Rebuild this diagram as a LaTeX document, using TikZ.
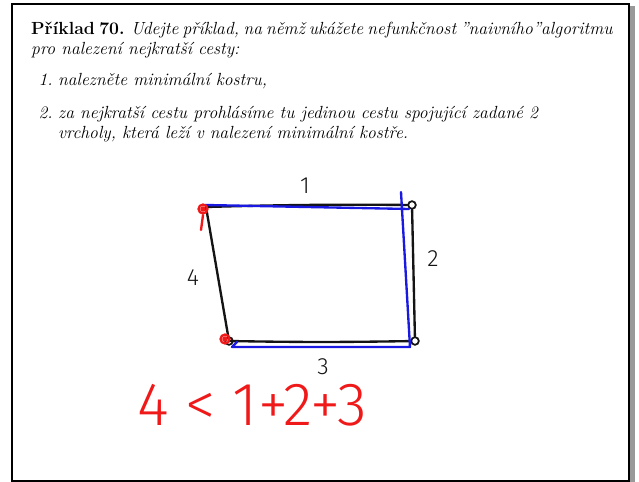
\documentclass[tikz,border=0pt]{standalone}
\usepackage{fontspec}
\newfontfamily\handfont{Fira Sans}[UprightFont={* Light}]
\usetikzlibrary{positioning}
\definecolor{penBlue}{RGB}{25,25,225}
\definecolor{penRed}{RGB}{240,25,25}
\definecolor{penBlack}{RGB}{20,20,20}
\tikzset{
  frameln/.style={line width=1.8pt, black},
  hand/.style={line width=2pt, line cap=round, line join=round},
  edgeln/.style={hand, penBlack},
  mstln/.style={hand, penBlue},
  redmark/.style={hand, penRed},
  vtx/.style={circle, draw=penBlack, line width=1.5pt, inner sep=0pt, minimum size=6.5pt},
  wlabel/.style={font=\handfont\fontsize{20}{20}\selectfont, text=penBlack, inner sep=0pt,
    text height=14pt, text depth=0pt},
  txtline/.style={anchor=base west, inner sep=0pt, font=\fontsize{15}{18}\selectfont},
  itemnum/.style={anchor=base east, inner sep=0pt, font=\fontsize{15}{18}\selectfont\itshape},
}
\begin{document}
\begin{tikzpicture}[x=0.03cm, y=-0.03cm]
  \useasboundingbox (0,0) rectangle (639,482);
  % frame with its shadow
  \fill[gray!80] (629,6) rectangle (635,482);
  \draw[frameln] (12,4) rectangle (629,481);
  % the text of the exercise
  \node[txtline] (title) at (31,35)
    {\makebox[17.31cm][s]{\textbf{Příklad 70.} \itshape Udejte příklad, na němž ukážete nefunkčnost ”naivního”algoritmu}};
  \node[txtline] (title2) at (31,55) {\itshape pro nalezení nejkratší cesty:};
  \node[itemnum] (numA) at (53,86) {1.};
  \node[txtline] (itemA) at (58,86) {\itshape nalezněte minimální kostru,};
  \node[itemnum] (numB) at (53,119) {2.};
  \node[txtline] (itemB) at (58,119) {\itshape za nejkratší cestu prohlásíme tu jedinou cestu spojující zadané 2};
  \node[txtline] (itemB2) at (58,139) {\itshape vrcholy, která leží v nalezení minimální kostře.};
  % the four vertices
  \node[vtx, draw=none] (tl) at (206,207) {};
  \node[vtx] (tr) at (412,205) {};
  \node[vtx] (br) at (415,341) {};
  \node[vtx] (bl) at (229,341) {};
  % black edges with their weights
  \draw[edgeln] (tl.center) to[bend left=1] (tr);
  \draw[edgeln] (tr) -- (br);
  \draw[edgeln] (br) to[bend left=1] (bl.center);
  \draw[edgeln] (bl) -- (tl.center);
  \node[wlabel] (wA) at (305,185) {1};
  \node[wlabel] (wB) at (433,258) {2};
  \node[wlabel] (wC) at (323,366) {3};
  \node[wlabel] (wD) at (193,277) {4};
  % minimal spanning tree in blue
  \draw[mstln] ([shift={(-1,-2)}]tl.center) -- ([shift={(-3,4)}]tr.center);
  \draw[mstln] ([shift={(-11,-13)}]tr.center) -- ([shift={(-5,6)}]br.center)
    -- ([shift={(3,6)}]bl.center) -- ++(5,-5);
  % the two given vertices in red
  \draw[redmark] ([shift={(-3,2)}]tl.center) circle[radius=3.8pt];
  \draw[redmark] ([shift={(-3,2)}]tl.center) circle[radius=1.6pt];
  \draw[redmark] ([shift={(-3,8)}]tl.center) -- ++(-2,15);
  \draw[redmark] ([shift={(-4,-2)}]bl.center) circle[radius=3.8pt];
  \draw[redmark] ([shift={(-4,-2)}]bl.center) circle[radius=1.6pt];
  % the inequality
  \node[font=\handfont\fontsize{52}{52}\selectfont, text=penRed, inner sep=0pt,
    text height=36pt, text depth=0pt] (ineq) at (252,404) {4 < 1+2+3};
\end{tikzpicture}
\end{document}
